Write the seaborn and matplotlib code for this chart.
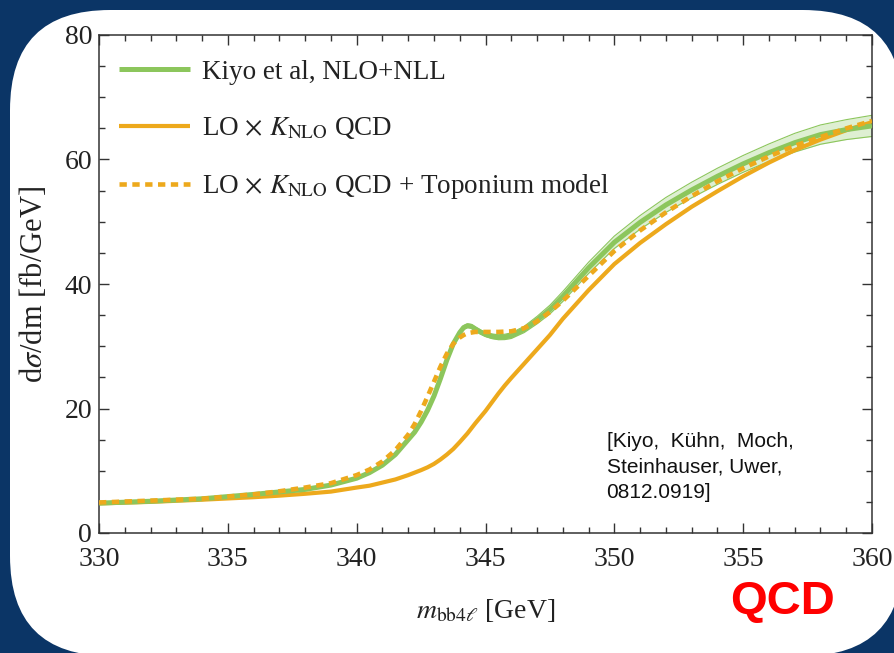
import numpy as np
import pandas as pd
import matplotlib
matplotlib.use("Agg")
import matplotlib.pyplot as plt
import seaborn as sns
from matplotlib.patches import FancyBboxPatch
from matplotlib.transforms import IdentityTransform
from matplotlib.ticker import MultipleLocator

# ---------------- data ----------------
mass = [330, 332, 334, 336, 337, 338, 339, 340, 340.5, 341, 341.5,
        342, 342.25, 342.5, 342.75, 343, 343.25, 343.5, 343.75, 344, 344.15, 344.3,
        344.45, 344.6, 344.8, 345, 345.25, 345.5, 345.75, 346,
        346.5, 347, 347.5, 348, 349, 350, 351, 352, 353, 354, 355, 356, 357, 358, 359, 360]

kiyo_nlo_nll = [4.8, 5.1, 5.5, 6.2, 6.6, 7.0, 7.7, 8.8, 9.7, 10.9, 12.6,
                15.0, 16.2, 17.8, 19.7, 22.0, 24.8, 27.8, 30.4, 32.2, 33.0, 33.3,
                33.2, 32.8, 32.3, 31.9, 31.6, 31.45, 31.5, 31.7,
                32.7, 34.2, 35.9, 38.0, 42.6, 46.7, 49.9, 52.7, 55.1, 57.3, 59.3, 61.1,
                62.7, 64.0, 64.8, 65.4]

kiyo_band_halfwidth = [0.1, 0.1, 0.1, 0.1, 0.1, 0.1, 0.15, 0.15, 0.2, 0.2, 0.2,
                       0.25, 0.25, 0.25, 0.3, 0.3, 0.3, 0.3, 0.3, 0.3, 0.3, 0.3,
                       0.3, 0.3, 0.33, 0.35, 0.38, 0.4, 0.43, 0.45,
                       0.5, 0.6, 0.7, 0.8, 0.9, 1.0, 1.1, 1.2, 1.25, 1.3, 1.35, 1.4,
                       1.5, 1.55, 1.6, 1.7]

lo_k_nlo = [4.75, 5.0, 5.35, 5.75, 6.0, 6.3, 6.65, 7.3, 7.6, 8.1, 8.6,
            9.3, 9.7, 10.1, 10.55, 11.1, 11.8, 12.6, 13.5, 14.6, 15.3, 16.0,
            16.8, 17.6, 18.6, 19.6, 21.0, 22.4, 23.7, 24.9,
            27.2, 29.5, 31.8, 34.4, 39.0, 43.2, 46.6, 49.6, 52.4, 54.9, 57.3, 59.5,
            61.5, 63.2, 64.7, 66.0]

lo_k_toponium = [4.9, 5.2, 5.5, 6.2, 6.7, 7.3, 8.0, 9.3, 10.2, 11.5, 13.3,
                 15.8, 17.5, 19.6, 21.9, 24.3, 26.7, 28.8, 30.4, 31.4, 31.8, 32.1,
                 32.2, 32.3, 32.3, 32.3, 32.3, 32.3, 32.35, 32.4,
                 32.9, 34.0, 35.5, 37.3, 41.3, 45.3, 48.6, 51.5, 54.1, 56.5, 58.6, 60.5,
                 62.2, 63.6, 65.0, 66.2]

labels = ["Kiyo et al, NLO+NLL",
          r"LO $\times$ $K_{\mathrm{NLO}}$ QCD",
          r"LO $\times$ $K_{\mathrm{NLO}}$ QCD + Toponium model"]

x_ticks = [330, 335, 340, 345, 350, 355, 360]
y_ticks = [0, 20, 40, 60, 80]

citation = "[Kiyo,  K\u00fchn,  Moch,\nSteinhauser, Uwer,\n0812.0919]"

# ---------------- style ----------------
sns.set_theme(style="ticks")
plt.rcParams["font.family"] = ["Liberation Serif", "DejaVu Serif"]
plt.rcParams["mathtext.fontset"] = "stix"

GREEN = "#8cc65c"
BAND = "#deefd2"
ORANGE = "#eda91c"
BG = "#0b3566"

df = pd.DataFrame({"m": mass, "kiyo": kiyo_nlo_nll, "lo": lo_k_nlo, "topo": lo_k_toponium,
                   "hw": kiyo_band_halfwidth})

fig = plt.figure(figsize=(8.94, 6.53), dpi=100)
fig.patch.set_facecolor(BG)
panel = FancyBboxPatch((10, -3), 893, 646, boxstyle="round,pad=0,rounding_size=100",
                       transform=IdentityTransform(), facecolor="white", edgecolor="none",
                       zorder=-5)
fig.patches.append(panel)

ax = fig.add_axes([99 / 894, 120 / 653, (872 - 99) / 894, (533 - 35) / 653])
ax.set_facecolor("white")

# band for Kiyo
ax.fill_between(df["m"], df["kiyo"] - df["hw"], df["kiyo"] + df["hw"],
                color=BAND, lw=0, zorder=1)
sns.lineplot(data=df, x="m", y=df["kiyo"] - df["hw"], ax=ax, color=GREEN, lw=0.8, zorder=1.5)
sns.lineplot(data=df, x="m", y=df["kiyo"] + df["hw"], ax=ax, color=GREEN, lw=0.8, zorder=1.5)

sns.lineplot(data=df, x="m", y="lo", ax=ax, color=ORANGE, lw=3.0, zorder=2, label=labels[1])
sns.lineplot(data=df, x="m", y="kiyo", ax=ax, color=GREEN, lw=3.6, zorder=3, label=labels[0])
sns.lineplot(data=df, x="m", y="topo", ax=ax, color=ORANGE, lw=3.3, zorder=4,
             linestyle=(0, (1.6, 1.2)), label=labels[2])
for ln in ax.lines:
    ln.set_solid_capstyle("butt")
    ln.set_dash_capstyle("butt")
    ln.set_solid_joinstyle("round")

ax.set_xlim(330, 360)
ax.set_ylim(0, 80)
ax.set_xticks(x_ticks)
ax.set_yticks(y_ticks)
ax.xaxis.set_minor_locator(MultipleLocator(1))
ax.yaxis.set_minor_locator(MultipleLocator(5))
ax.tick_params(which="both", direction="in", top=True, right=True, colors="#333333",
               labelcolor="#222222", width=1.0)
ax.tick_params(which="major", length=7, labelsize=20, pad=5)
ax.tick_params(axis="x", which="major", pad=10)
ax.tick_params(which="minor", length=4)
for s in ax.spines.values():
    s.set_color("#333333")
    s.set_linewidth(1.1)

ax.set_xlabel(r"$m_{\mathrm{bb}4\ell}$ [GeV]", fontsize=20, color="#222222", labelpad=18)
ax.set_ylabel(r"d$\sigma$/dm [fb/GeV]", fontsize=22, color="#222222", labelpad=11)

handles, labs = ax.get_legend_handles_labels()
order = [labs.index(l) for l in labels]
leg = ax.legend([handles[i] for i in order], [labs[i] for i in order],
                loc="upper left", bbox_to_anchor=(0.012, 0.972), frameon=False,
                fontsize=19.5, handlelength=2.6, handletextpad=0.45, labelspacing=1.13,
                borderaxespad=0)
for t in leg.get_texts():
    t.set_color("#222222")

ax.text(349.7, 16.3, citation, fontsize=15, family=["Liberation Sans", "DejaVu Sans"],
        color="#111111", va="top", ha="left", linespacing=1.45)

fig.text(782 / 894, (653 - 614) / 653, "QCD", color="#ff0000", fontsize=34,
         fontweight="bold", family=["Liberation Sans", "DejaVu Sans"],
         ha="center", va="baseline")

fig.savefig("out.png", dpi=100, facecolor=BG)
